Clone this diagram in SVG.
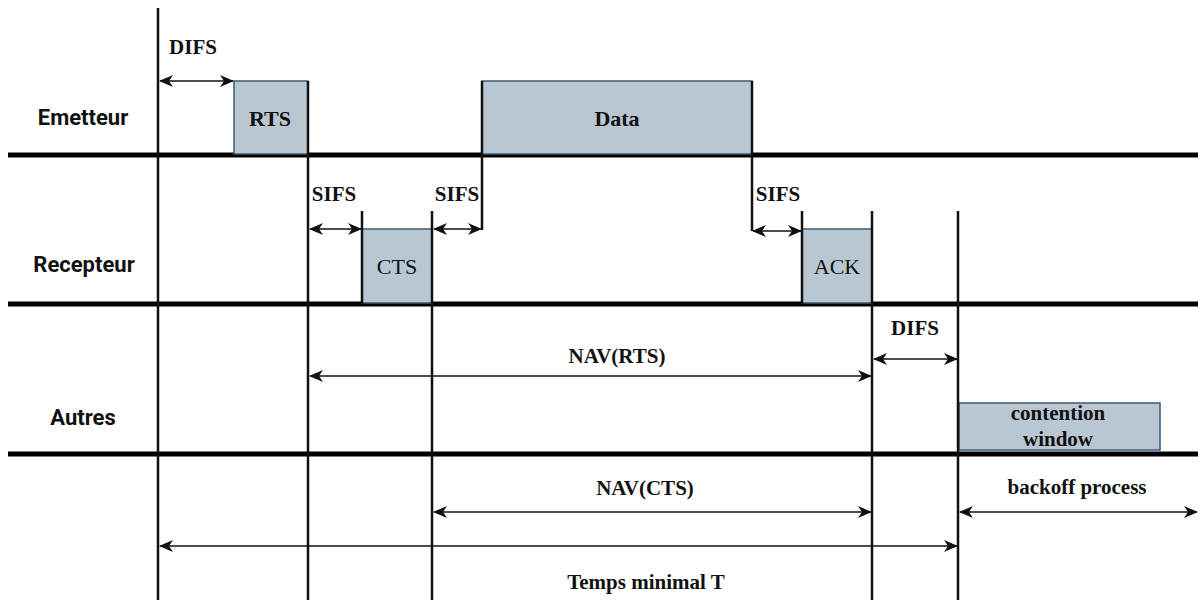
<svg xmlns="http://www.w3.org/2000/svg" width="1200" height="604" viewBox="0 0 1200 604">
<style>
.lane{stroke:#000;stroke-width:5}
.v{stroke:#111;stroke-width:2.5;fill:none}
.arr{stroke:#111;stroke-width:1.6;fill:none;marker-start:url(#ah);marker-end:url(#ah)}
.box{fill:#b9c7d3;stroke:#3d5a75;stroke-width:1.5}
.lbl{font-family:'Liberation Serif',serif;font-weight:bold;font-size:21px;fill:#111;text-anchor:middle}
.boxt{font-family:'Liberation Serif',serif;font-size:22px;fill:#111;text-anchor:middle}
.lane-t{font-family:Roboto,'Liberation Sans',sans-serif;font-weight:bold;font-size:22px;fill:#111;text-anchor:middle}
</style>
<defs>
<marker id="ah" markerUnits="userSpaceOnUse" markerWidth="14" markerHeight="12" refX="13" refY="6" orient="auto-start-reverse">
<path d="M0,0 L14,6 L0,12 L4,6 z" fill="#111"/>
</marker>
</defs>
<rect width="1200" height="604" fill="#fff"/>
<g id="lanes">
<line class="lane" x1="8" y1="155" x2="1198" y2="155"/>
<line class="lane" x1="8" y1="304" x2="1198" y2="304"/>
<line class="lane" x1="8" y1="454" x2="1198" y2="454"/>
<text class="lane-t" x="83" y="125">Emetteur</text>
<text class="lane-t" x="84" y="272">Recepteur</text>
<text class="lane-t" x="83" y="425">Autres</text>
</g>
<g id="node-rts">
<rect class="box" x="234" y="81" width="74" height="73"/>
<text class="boxt" font-weight="bold" x="270" y="126">RTS</text>
</g>
<g id="node-data">
<rect class="box" x="482" y="81" width="270" height="73"/>
<text class="boxt" font-weight="bold" x="617" y="126">Data</text>
</g>
<g id="node-cts">
<rect class="box" x="362" y="229" width="70" height="74"/>
<text class="boxt" x="397" y="274">CTS</text>
</g>
<g id="node-ack">
<rect class="box" x="802" y="229" width="70" height="74"/>
<text class="boxt" x="837" y="274">ACK</text>
</g>
<g id="node-cw">
<rect class="box" x="959" y="403" width="201" height="47"/>
<text class="lbl" font-size="20" x="1058" y="420">contention</text>
<text class="lbl" font-size="20" x="1058" y="446">window</text>
</g>
<g id="timelines">
<line class="v" x1="158" y1="8" x2="158" y2="600"/>
<line class="v" x1="308" y1="81" x2="308" y2="600"/>
<line class="v" x1="432" y1="211" x2="432" y2="600"/>
<line class="v" x1="872" y1="211" x2="872" y2="600"/>
<line class="v" x1="958" y1="211" x2="958" y2="600"/>
<line class="v" x1="482" y1="81" x2="482" y2="230"/>
<line class="v" x1="752" y1="81" x2="752" y2="231"/>
<line class="v" x1="362" y1="211" x2="362" y2="304"/>
<line class="v" x1="802" y1="211" x2="802" y2="304"/>
</g>
<g id="connectors">
<line class="arr" x1="160" y1="81" x2="233" y2="81"/>
<line class="arr" x1="310" y1="229" x2="361" y2="229"/>
<line class="arr" x1="434" y1="229" x2="481" y2="229"/>
<line class="arr" x1="753" y1="231" x2="801" y2="231"/>
<line class="arr" x1="310" y1="376" x2="871" y2="376"/>
<line class="arr" x1="874" y1="359" x2="957" y2="359"/>
<line class="arr" x1="434" y1="512" x2="871" y2="512"/>
<line class="arr" x1="160" y1="546" x2="957" y2="546"/>
<line class="arr" x1="960" y1="512" x2="1197" y2="512"/>
</g>
<g id="labels">
<text class="lbl" x="193" y="54">DIFS</text>
<text class="lbl" x="334" y="201">SIFS</text>
<text class="lbl" x="457" y="201">SIFS</text>
<text class="lbl" x="778" y="201">SIFS</text>
<text class="lbl" x="617" y="363">NAV(RTS)</text>
<text class="lbl" x="915" y="335">DIFS</text>
<text class="lbl" x="645" y="495">NAV(CTS)</text>
<text class="lbl" x="1077" y="494">backoff process</text>
<text class="lbl" x="646" y="589">Temps minimal T</text>
</g>
</svg>
